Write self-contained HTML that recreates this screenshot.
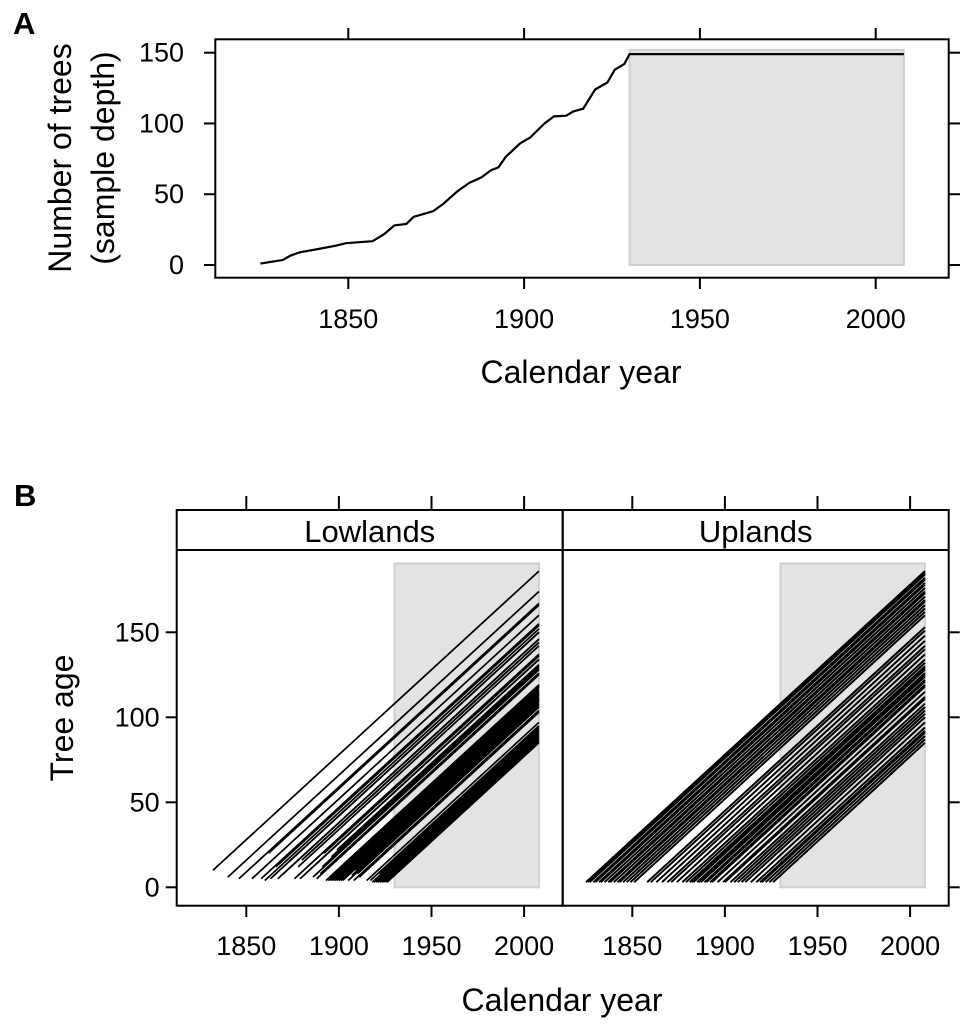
<!DOCTYPE html>
<html><head><meta charset="utf-8"><style>
html,body{margin:0;padding:0;background:#fff;}
svg{display:block;font-family:"Liberation Sans",Arial,sans-serif;}
</style></head><body>
<svg id="fig" width="972" height="1024" viewBox="0 0 972 1024" xmlns="http://www.w3.org/2000/svg">
<text x="13" y="34" font-size="31" font-weight="bold">A</text>
<text x="14" y="506" font-size="31" font-weight="bold">B</text>
<g id="pa"></g>
<g id="pb"></g>
</svg>
<script>
// Panel A data
const depthYears = [1825,1831.4,1833.5,1836.2,1841.7,1846.6,1849.3,1856.9,1860.3,1863.1,1866.5,1868.6,1874.1,1876.9,1881,1884.4,1887.9,1890.6,1892.7,1894.8,1898.9,1901.7,1905.8,1908.5,1912,1914,1916.8,1920.2,1923.7,1925.8,1928.5,1930,2008];
const depthValues = [1,3.6,6.6,9,11.4,13.7,15.4,16.8,22,28,29,34,38,43,52,58,62,67,69,76.5,86,90,100,105,105.5,108.5,110.4,124,129,138,142,149,149];
const yearTicks = [1850,1900,1950,2000];
const depthTicks = [0,50,100,150];
const ageTicks = [0,50,100,150];
const shadeYears = [1930,2008];
const endYear = 2008;
// Panel B data: start year and age at first ring of each tree
const lowStart = [1832,1840,1846,1853,1858,1860,1862,1863,1866,1867,1870,1873,1876,1878,1879,1882,1884,1886,1888,1890,1891,1893,1894,1895,1896,1897,1897,1898,1899,1900,1900,1901,1902,1903,1904,1905,1906,1907,1908,1909,1910,1911,1912,1913,1915,1917,1918,1919,1920,1921,1922,1922,1923,1924,1925,1926,1880,1885,1892,1896,1899,1903,1905,1910];
const lowAge = [10,6,5,5,5,4,20,5,12,5,8,15,5,12,5,18,10,6,5,8,12,4,4,4,4,4,8,4,4,4,10,4,4,6,9,4,12,7,4,10,8,6,15,9,4,4,3,3,3,3,3,8,3,3,3,3,16,14,20,18,22,14,16,12];
const upStart = [1825,1826,1827,1829,1830,1832,1833,1835,1837,1838,1840,1842,1843,1845,1847,1849,1851,1858,1860,1863,1866,1869,1871,1874,1877,1879,1881,1882,1883,1885,1886,1887,1889,1890,1892,1893,1896,1899,1900,1903,1905,1907,1909,1911,1914,1917,1919,1920,1922,1924,1926];
const upAge = [3,3,3,3,3,3,3,3,3,3,3,3,3,3,3,3,3,3,3,3,3,3,3,3,3,3,3,3,3,3,3,3,3,3,3,3,3,3,3,3,3,3,3,3,3,3,3,3,3,3,3];

const NS="http://www.w3.org/2000/svg";
function mk(parent,tag,attrs){const e=document.createElementNS(NS,tag);for(const k in attrs)e.setAttribute(k,attrs[k]);parent.appendChild(e);return e;}

// ---- Panel A ----
const pa=document.getElementById('pa');
const ax=y=>348.3+(y-1850)*(175.8/50);
const ay=v=>265-v*(212.3/150);
let el=mk(pa,'rect',{x:ax(shadeYears[0]),y:ay(152),width:ax(shadeYears[1])-ax(shadeYears[0]),height:ay(0)-ay(152),fill:'#e3e3e3',stroke:'#d0d0d0','stroke-width':2});


el=mk(pa,'polyline',{points:depthYears.map((y,i)=>ax(y)+','+ay(depthValues[i])).join(' '),fill:'none',stroke:'#000','stroke-width':2.2});


el=mk(pa,'rect',{x:215.3,y:39.3,width:733.4,height:238.4,fill:'none',stroke:'#000','stroke-width':2});


yearTicks.forEach(t=>{
  el=mk(pa,'line',{x1:ax(t),x2:ax(t),y1:277.7,y2:289,stroke:'#000','stroke-width':2});
  
  
  el=mk(pa,'line',{x1:ax(t),x2:ax(t),y1:28,y2:39.3,stroke:'#000','stroke-width':2});
  
  
  el=mk(pa,'text',{x:ax(t),y:328,'font-size':27,'text-anchor':'middle'});el.textContent=t;
  
  
});
depthTicks.forEach(t=>{
  el=mk(pa,'line',{x1:204,x2:215.3,y1:ay(t),y2:ay(t),stroke:'#000','stroke-width':2});
  
  
  el=mk(pa,'line',{x1:948.7,x2:960,y1:ay(t),y2:ay(t),stroke:'#000','stroke-width':2});
  
  
  el=mk(pa,'text',{x:184,y:ay(t)+9,'font-size':27,'text-anchor':'end'});el.textContent=t;
  
  
});
el=mk(pa,'text',{x:581,y:383,'font-size':32,'text-anchor':'middle'});el.textContent='Calendar year';


el=mk(pa,'text',{x:0,y:0,'font-size':32,'text-anchor':'middle',transform:'translate(71,158) rotate(-90)'});el.textContent='Number of trees';


el=mk(pa,'text',{x:0,y:0,'font-size':32,'text-anchor':'middle',transform:'translate(114,158) rotate(-90)'});el.textContent='(sample depth)';



// ---- Panel B ----
const pb=document.getElementById('pb');
const by=a=>887.3-a*(85/50);
const panels=[{name:'Lowlands',x0:176.7,starts:lowStart,ages:lowAge,sw:1.7,left:true},{name:'Uplands',x0:562.7,starts:upStart,ages:upAge,sw:2,left:false}];
panels.forEach(p=>{
  const bx=y=>p.x0+69.6+(y-1850)*(92.6/50);
  const g=mk(pb,'g',{});
  
  
  el=mk(g,'rect',{x:bx(shadeYears[0]),y:by(190.5),width:bx(shadeYears[1])-bx(shadeYears[0]),height:by(0)-by(190.5),fill:'#e3e3e3',stroke:'#d0d0d0','stroke-width':2});
  
  
  p.starts.forEach((s,i)=>{
    const a0=p.ages[i];
    el=mk(g,'line',{x1:bx(s),y1:by(a0),x2:bx(endYear),y2:by(a0+endYear-s),stroke:'#000','stroke-width':p.sw});
    
    
  });
  el=mk(g,'rect',{x:p.x0,y:510,width:386,height:395.7,fill:'none',stroke:'#000','stroke-width':2});
  
  
  el=mk(g,'line',{x1:p.x0,x2:p.x0+386,y1:550,y2:550,stroke:'#000','stroke-width':2});
  
  
  el=mk(g,'text',{x:p.x0+193,y:542,'font-size':31,'text-anchor':'middle'});el.textContent=p.name;
  
  
  yearTicks.forEach(t=>{
    el=mk(g,'line',{x1:bx(t),x2:bx(t),y1:905.7,y2:917,stroke:'#000','stroke-width':2});
    
    
    el=mk(g,'line',{x1:bx(t),x2:bx(t),y1:496,y2:510,stroke:'#000','stroke-width':2});
    
    
    el=mk(g,'text',{x:bx(t),y:955,'font-size':27,'text-anchor':'middle'});el.textContent=t;
    
    
  });
  ageTicks.forEach(t=>{
    if(p.left){
      el=mk(g,'line',{x1:p.x0-11,x2:p.x0,y1:by(t),y2:by(t),stroke:'#000','stroke-width':2});
      
      
      el=mk(g,'text',{x:p.x0-17,y:by(t)+9,'font-size':27,'text-anchor':'end'});el.textContent=t;
      
      
    } else {
      el=mk(g,'line',{x1:p.x0+386,x2:p.x0+397,y1:by(t),y2:by(t),stroke:'#000','stroke-width':2});
      
      
    }
  });
});
el=mk(pb,'text',{x:562,y:1011,'font-size':32,'text-anchor':'middle'});el.textContent='Calendar year';


el=mk(pb,'text',{x:0,y:0,'font-size':32,'text-anchor':'middle',transform:'translate(73,718) rotate(-90)'});el.textContent='Tree age';


</script>
</body></html>
